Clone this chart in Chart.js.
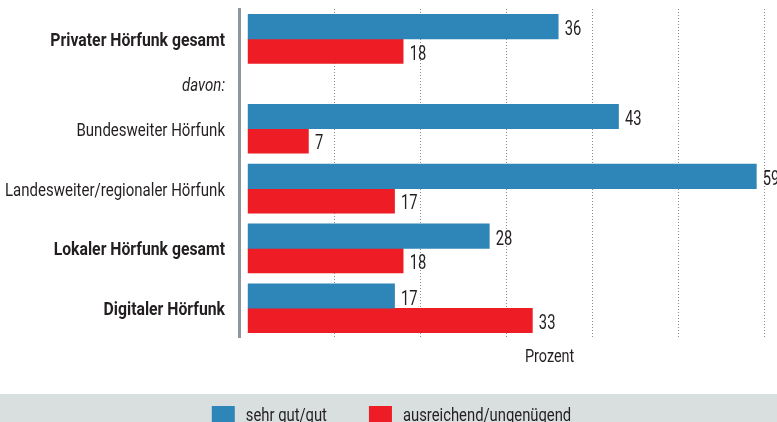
<!DOCTYPE html>
<html lang="de">
<head>
<meta charset="utf-8">
<title>Hörfunk Bewertung</title>
<script src="https://cdn.jsdelivr.net/npm/chart.js@4.4.1/dist/chart.umd.min.js"></script>
<style>
  html, body { margin: 0; padding: 0; background: #fff; overflow: hidden; }
  #wrap { position: relative; width: 777px; height: 422px; }
</style>
</head>
<body>
<div id="wrap"><canvas id="radio-chart"></canvas></div>
<script>
/*- DATA
-----------------------------------------------------------------------*/
const categories = [
  "Privater Hörfunk gesamt",
  "davon:",
  "Bundesweiter Hörfunk",
  "Landesweiter/regionaler Hörfunk",
  "Lokaler Hörfunk gesamt",
  "Digitaler Hörfunk"
];
// row of each category on the y scale (the "davon:" line sits between rows)
const rowPos = [0, 0.75, 1.5, 2.5, 3.5, 4.5];
const labelStyle = ["bold", "italic", "normal", "normal", "bold", "bold"];

const sehrGut = [36, null, 43, 59, 28, 17];
const ausreichend = [18, null, 7, 17, 18, 33];

const gridTicks = [10, 20, 30, 40, 50, 60];
const axisTitle = "Prozent";

/*- STYLE
-----------------------------------------------------------------------*/
const FONT = 'Roboto, "Liberation Sans", sans-serif';
const TEXT = "#231f20";
const BLUE = "#2d85b8";
const RED = "#ee1c25";

const toPoints = values => values.map((v, i) => ({ x: v, y: rowPos[i] }));

function fontFor(style, size) {
  const weight = style === "bold" ? "bold" : "normal";
  const slant = style === "italic" ? "italic" : "normal";
  return `${slant} ${weight} ${size || 19}px ${FONT}`;
}

// condensed text: draw with a horizontal squeeze around the anchor point
function narrowText(ctx, text, x, y, align, font, squeeze) {
  ctx.save();
  ctx.font = font;
  ctx.fillStyle = TEXT;
  ctx.textAlign = align;
  ctx.textBaseline = "alphabetic";
  ctx.translate(x, y);
  ctx.scale(squeeze, 1);
  ctx.fillText(text, 0, 0);
  ctx.restore();
}

function narrowWidth(ctx, text, font, squeeze) {
  ctx.save();
  ctx.font = font;
  const w = ctx.measureText(text).width * squeeze;
  ctx.restore();
  return w;
}

/*- PLUGINS
-----------------------------------------------------------------------*/
// category names left of the axis line
const rowLabels = {
  id: "rowLabels",
  afterDraw(chart) {
    const ys = chart.scales.y;
    categories.forEach((name, i) => {
      const style = labelStyle[i];
      const y = ys.getPixelForValue(rowPos[i]) + 7;
      narrowText(chart.ctx, name, ys.right - 14.5, y, "right",
        fontFor(style), style === "bold" ? 0.83 : 0.79);
    });
  }
};

// value labels at the end of the bars + axis title under the grid
const barLabels = {
  id: "barLabels",
  afterDatasetsDraw(chart) {
    const { ctx } = chart;
    chart.data.datasets.forEach((ds, di) => {
      chart.getDatasetMeta(di).data.forEach((bar, i) => {
        const v = ds.data[i].x;
        if (v === null) return;
        narrowText(ctx, String(v), bar.x + 6.5, bar.y + 8.5, "left", fontFor("normal", 20.5), 0.72);
      });
    });

    const xs = chart.scales.x;
    const mid = (gridTicks[0] + gridTicks[gridTicks.length - 1]) / 2;
    narrowText(ctx, axisTitle, xs.getPixelForValue(mid), chart.chartArea.bottom + 25,
      "center", fontFor("normal"), 0.76);
  }
};

// legend on a grey band at the bottom
const bandLegend = {
  id: "bandLegend",
  afterDraw(chart) {
    const { ctx, width, height } = chart;
    const bandTop = height - 28;
    const font = fontFor("normal");
    const squeeze = 0.78;
    ctx.save();
    ctx.fillStyle = "#d9dfdf";
    ctx.fillRect(0, bandTop, width, height - bandTop);
    ctx.restore();

    const box = 23, gap = 11, spacing = 42;
    const items = chart.data.datasets.map(ds => ({
      text: ds.label,
      color: ds.backgroundColor,
      w: narrowWidth(ctx, ds.label, font, squeeze)
    }));
    const total = items.reduce((s, it) => s + box + gap + it.w, 0) + spacing * (items.length - 1);
    let x = (width - total) / 2 + 3;
    items.forEach(it => {
      ctx.fillStyle = it.color;
      ctx.fillRect(x, bandTop + 12, box, 17);
      narrowText(ctx, it.text, x + box + gap, bandTop + 27, "left", font, squeeze);
      x += box + gap + it.w + spacing;
    });
  }
};

/*- CHART
-----------------------------------------------------------------------*/
new Chart(document.getElementById("radio-chart"), {
  type: "bar",
  data: {
    datasets: [
      {
        label: "sehr gut/gut",
        backgroundColor: BLUE,
        data: toPoints(sehrGut)
      }, {
        label: "ausreichend/ungenügend",
        backgroundColor: RED,
        data: toPoints(ausreichend)
      }
    ]
  },
  options: {
    indexAxis: "y",
    responsive: true,
    maintainAspectRatio: false,
    animation: false,
    layout: { padding: { top: 9, left: 0, right: 0, bottom: 59 } },
    datasets: {
      bar: { barThickness: 24.5, borderWidth: 0 }
    },
    scales: {
      x: {
        type: "linear",
        min: -1,
        max: 61.4,
        afterBuildTicks: s => { s.ticks = gridTicks.map(v => ({ value: v })); },
        afterFit: s => { s.height = 26; },
        ticks: { display: false },
        grid: { color: "#8a8a8a", lineWidth: 1, drawTicks: false },
        border: { display: false, dash: [1, 2] }
      },
      y: {
        type: "linear",
        reverse: true,
        offset: false,
        min: -0.5,
        max: 4.98,
        afterBuildTicks: s => { s.ticks = rowPos.map(v => ({ value: v })); },
        afterFit: s => { s.width = 239.5; },
        grid: { display: false, offset: false },
        border: { display: true, color: "#8e979d", width: 3 },
        ticks: { display: false }
      }
    },
    plugins: {
      tooltip: { enabled: false },
      legend: { display: false }
    }
  },
  plugins: [barLabels, rowLabels, bandLegend]
});
</script>
</body>
</html>
